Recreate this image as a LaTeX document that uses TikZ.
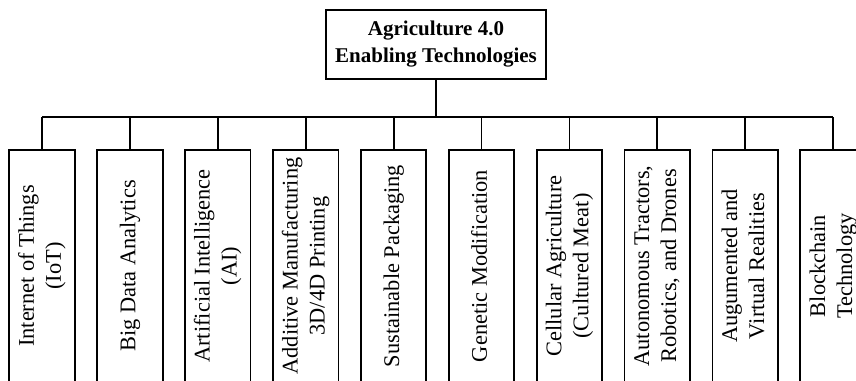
\documentclass[tikz,border=0pt]{standalone}
\usepackage{fontspec}
\setmainfont{Liberation Serif}
\begin{document}
\begin{tikzpicture}[x=1pt,y=-1pt,
  rootbox/.style={draw,line width=1.8pt,minimum width=220pt,minimum height=69pt,
    align=center,inner sep=0pt,font=\bfseries\fontsize{21}{27}\selectfont},
  techbox/.style={draw,line width=1.8pt,minimum width=65.5pt,minimum height=232pt,
    inner sep=0pt,font=\fontsize{22.4}{27}\selectfont},
  link/.style={line width=1.8pt}]
\useasboundingbox (0,0) rectangle (856,380);
\clip (0,0) rectangle (856,380);
\newcommand{\vtext}[1]{\rotatebox{90}{\begin{tabular}{@{}c@{}}#1\end{tabular}}}
% root of the tree
\node[rootbox] (root) at (436,44.5) {Agriculture 4.0\\Enabling Technologies};
% the ten technologies
\node[techbox] (t1) at (42,266) {\vtext{Internet of Things\\(IoT)}};
\node[techbox] (t2) at (129.9,266) {\vtext{Big Data Analytics}};
\node[techbox] (t3) at (217.8,266) {\vtext{Artificial Intelligence\\(AI)}};
\node[techbox] (t4) at (305.7,266) {\vtext{Additive Manufacturing\\3D/4D Printing}};
\node[techbox] (t5) at (393.6,266) {\vtext{Sustainable Packaging}};
\node[techbox] (t6) at (481.5,266) {\vtext{Genetic Modification}};
\node[techbox] (t7) at (569.4,266) {\vtext{Cellular Agriculture\\(Cultured Meat)}};
\node[techbox] (t8) at (657.3,266) {\vtext{Autonomous Tractors,\\Robotics, and Drones}};
\node[techbox] (t9) at (745.2,266) {\vtext{Augumented and\\Virtual Realities}};
\node[techbox] (t10) at (833.1,266) {\vtext{Blockchain\\Technology}};
% connector bus
\coordinate (bus) at (0,117);
\draw[link] (root.south) -- (root.south |- bus);
\draw[link] (t1.north |- bus) -- (t10.north |- bus);
\foreach \i in {1,...,10}{
  \draw[link] (t\i.north) -- (t\i.north |- bus);
}
\end{tikzpicture}
\end{document}
